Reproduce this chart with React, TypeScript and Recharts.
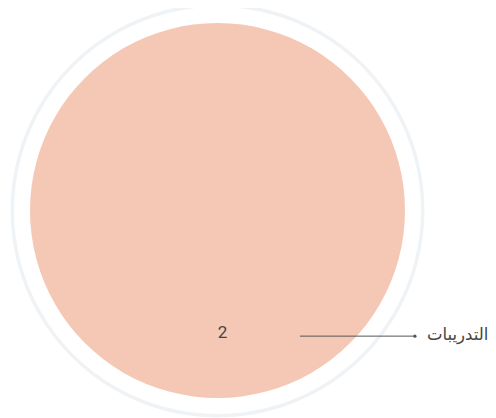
import React from 'react';
import { PieChart, Pie, Cell } from 'recharts';

const categories = ['التدريبات'];
const values = [2];
const ringValues = [1];

const COLORS = ['#f5c8b6'];
const RING_COLOR = '#eff3f6';

const data = categories.map((name, i) => ({ name, value: values[i] }));
const ringData = ringValues.map((value, i) => ({ name: `ring-${i}`, value }));

const renderLabel = (props: any) => {
  const { cx, cy, outerRadius, value, name } = props;
  const lineY = cy + outerRadius * 0.67;
  const lineStart = cx + outerRadius * 0.44;
  const lineEnd = cx + outerRadius * 1.053;
  return (
    <g>
      <text
        x={cx + 5}
        y={cy + outerRadius * 0.65}
        textAnchor="middle"
        dominantBaseline="central"
        fill="#444"
        fontSize={17}
        fontFamily="Roboto, 'DejaVu Sans', sans-serif"
      >
        {value}
      </text>
      <line x1={lineStart} y1={lineY} x2={lineEnd} y2={lineY} stroke="#555" strokeWidth={1} />
      <circle cx={lineEnd} cy={lineY} r={1.6} fill="#555" />
      <text
        x={lineEnd + 12}
        y={lineY - 2}
        textAnchor="start"
        dominantBaseline="central"
        fill="#444"
        fontSize={16.5}
        fontFamily="'DejaVu Sans', sans-serif"
      >
        {name}
      </text>
    </g>
  );
};

export default function App() {
  return (
    <PieChart width={488} height={410} margin={{ top: 0, right: 0, bottom: 0, left: 0 }}>
      <Pie
        data={ringData}
        dataKey="value"
        cx={209.5}
        cy={202.5}
        innerRadius={203.5}
        outerRadius={207}
        stroke="none"
        isAnimationActive={false}
      >
        {ringData.map((entry, index) => (
          <Cell key={`ring-${index}`} fill={RING_COLOR} />
        ))}
      </Pie>
      <Pie
        data={data}
        dataKey="value"
        nameKey="name"
        cx={209.5}
        cy={202.5}
        outerRadius={187.5}
        stroke="none"
        labelLine={false}
        label={renderLabel}
        isAnimationActive={false}
      >
        {data.map((entry, index) => (
          <Cell key={`cell-${index}`} fill={COLORS[index % COLORS.length]} />
        ))}
      </Pie>
    </PieChart>
  );
}
